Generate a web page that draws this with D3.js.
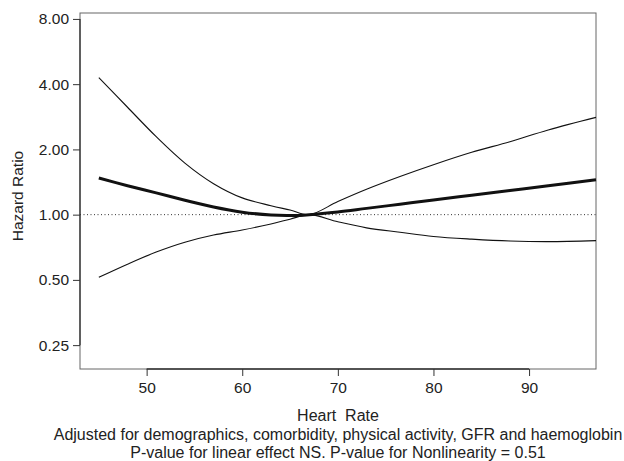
<!DOCTYPE html>
<html lang="en">
<head>
<meta charset="utf-8">
<title>hazard ratio by heart rate</title>
<script type="text/javascript" src="https://d3js.org/d3.v7.min.js"></script>
<style type="text/css">
    body{
        margin:0;
        background:#fff;
        font-family:"Liberation Sans", Arial, helvetica, sans-serif;
    }
    text{ fill:#222; }
</style>
</head>
<body>
<div id="chart"></div>
<script type="text/javascript">
    var heartRate = [45, 48, 51, 54, 57, 60, 63, 65, 67, 70, 73, 76.5, 80, 84, 88, 92, 97]
    // hazard ratio estimate and 95% band
    var hrFit   = [1.476, 1.36, 1.26, 1.166, 1.085, 1.027, 0.995, 0.99, 1.0, 1.029, 1.069, 1.117, 1.169, 1.229, 1.293, 1.36, 1.45]
    var hrUpper = [4.29, 3.13, 2.29, 1.73, 1.39, 1.195, 1.10, 1.05, 1.0, 1.15, 1.31, 1.50, 1.70, 1.94, 2.17, 2.46, 2.81]
    var hrLower = [0.514, 0.591, 0.672, 0.746, 0.805, 0.85, 0.906, 0.953, 1.0, 0.927, 0.869, 0.829, 0.793, 0.771, 0.756, 0.751, 0.759]
    var yTicks = [0.25, 0.5, 1, 2, 4, 8]
    var xTicks = [50, 60, 70, 80, 90]
    var notes = ["Adjusted for demographics, comorbidity, physical activity, GFR and haemoglobin",
                 "P-value for linear effect NS. P-value for Nonlinearity = 0.51"]

    var width = 624
    var height = 461
    // plot box (don't call these top/left: window.top is read-only)
    var pLeft = 80, pRight = 596, pTop = 13, pBottom = 369

    var svg = d3.select("#chart").append("svg")
        .attr("width", width).attr("height", height)

    var x = d3.scaleLinear().domain([43.03, 97]).range([pLeft, pRight])
    var y = d3.scaleLog().domain([0.194, 8.52]).range([pBottom, pTop])

    // outer frame
    svg.append("rect")
        .attr("x", pLeft).attr("y", pTop)
        .attr("width", pRight - pLeft).attr("height", pBottom - pTop)
        .attr("fill", "none").attr("stroke", "#666").attr("stroke-width", 1)

    // reference line at HR = 1
    svg.append("line")
        .attr("x1", pLeft).attr("x2", pRight)
        .attr("y1", y(1)).attr("y2", y(1))
        .attr("stroke", "#333").attr("stroke-width", 1)
        .attr("stroke-dasharray", "1,2.5")

    var yAxis = svg.append("g")
        .attr("transform", "translate(" + pLeft + ",0)")
        .call(d3.axisLeft(y).tickValues(yTicks).tickSize(7).tickPadding(4)
            .tickFormat(d3.format(".2f")))
    var xAxis = svg.append("g")
        .attr("transform", "translate(0," + pBottom + ")")
        .call(d3.axisBottom(x).tickValues(xTicks).tickSize(7).tickPadding(6))

    ;[yAxis, xAxis].forEach(function(a){
        a.select(".domain").remove()
        a.selectAll(".tick line").attr("stroke", "#333")
        a.selectAll("text").attr("font-size", "15.5px")
            .attr("font-family", "'Liberation Sans', Arial, sans-serif").attr("fill", "#222")
    })
    // darker axis segments between the end ticks
    svg.append("line")
        .attr("x1", pLeft).attr("x2", pLeft)
        .attr("y1", y(8)).attr("y2", y(0.25))
        .attr("stroke", "#333").attr("stroke-width", 1.3)
    svg.append("line")
        .attr("x1", x(50)).attr("x2", x(90))
        .attr("y1", pBottom).attr("y2", pBottom)
        .attr("stroke", "#333").attr("stroke-width", 1.3)

    function drawCurve(values, w){
        var line = d3.line()
            .x(function(d, i){ return x(heartRate[i]) })
            .y(function(d){ return y(d) })
            .curve(d3.curveCatmullRom.alpha(0.5))
        svg.append("path")
            .datum(values)
            .attr("d", line)
            .attr("fill", "none")
            .attr("stroke", "#111")
            .attr("stroke-width", w)
    }
    drawCurve(hrUpper, 1.1)
    drawCurve(hrLower, 1.1)
    drawCurve(hrFit, 3)

    // labels
    svg.append("text")
        .attr("transform", "translate(23,196) rotate(-90)")
        .attr("text-anchor", "middle")
        .attr("font-size", "15.5px")
        .text("Hazard Ratio")

    svg.append("text")
        .attr("x", (pLeft + pRight) / 2).attr("y", 421)
        .attr("text-anchor", "middle")
        .attr("font-size", "16px")
        .style("white-space", "pre")
        .text("Heart  Rate")

    svg.selectAll(".note").data(notes).enter().append("text")
        .attr("class", "note")
        .attr("x", (pLeft + pRight) / 2)
        .attr("y", function(d, i){ return 440 + i * 18 })
        .attr("text-anchor", "middle")
        .attr("font-size", "16px")
        .text(function(d){ return d })
</script>
</body>
</html>
